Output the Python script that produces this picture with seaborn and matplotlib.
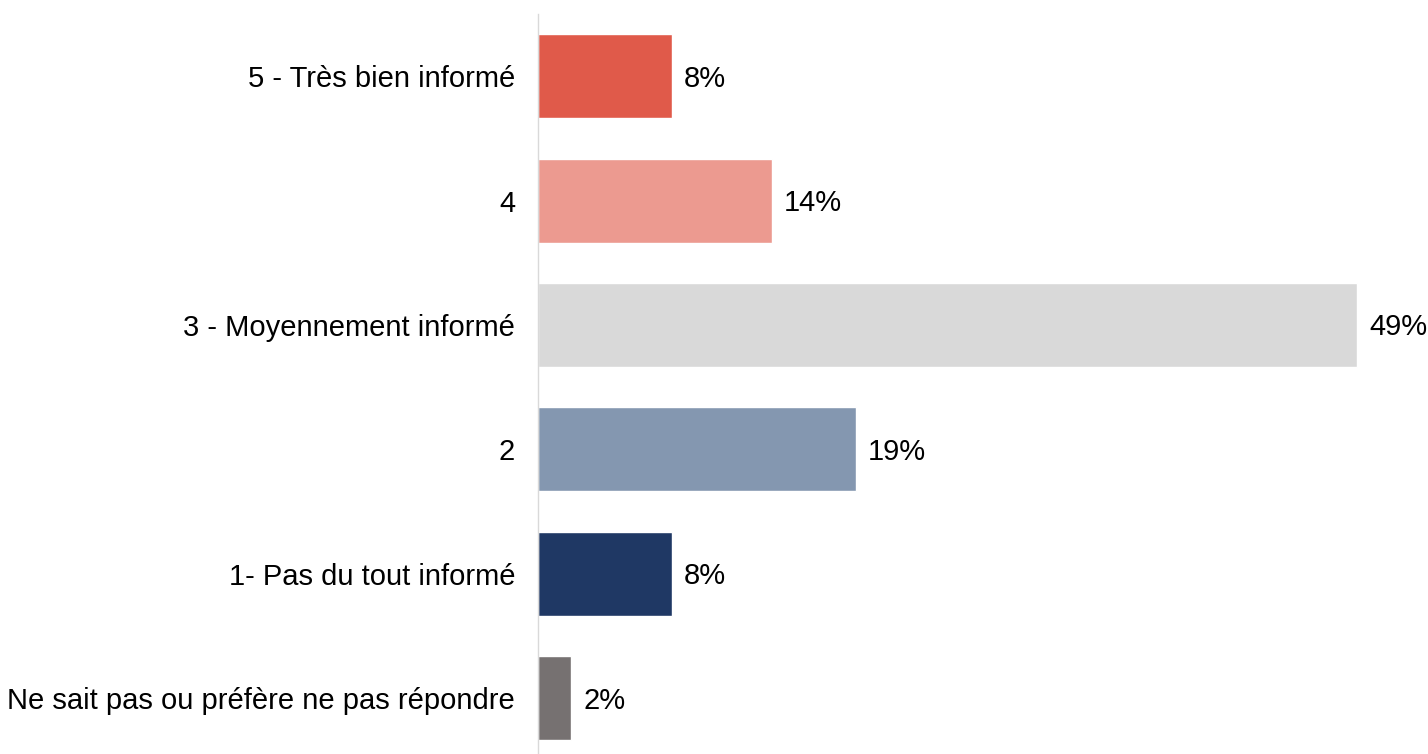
import matplotlib
matplotlib.use("Agg")
import matplotlib.pyplot as plt
import seaborn as sns
import pandas as pd

categories = [
    "5 - Très bien informé",
    "4",
    "3 - Moyennement informé",
    "2",
    "1- Pas du tout informé",
    "Ne sait pas ou préfère ne pas répondre",
]
values = [8, 14, 49, 19, 8, 2]
colors = ["#E05A4A", "#EC9A90", "#D9D9D9", "#8497B0", "#1F3864", "#767171"]

df = pd.DataFrame({"categorie": categories, "pct": values})

sns.set_style("white")
plt.rcParams["font.family"] = ["Liberation Sans", "DejaVu Sans"]

fig = plt.figure(figsize=(14.28, 7.54), dpi=100)
ax = fig.add_axes([538 / 1428, 0.0, 1 - 538 / 1428, 740 / 754])

sns.barplot(
    data=df, x="pct", y="categorie", hue="categorie",
    palette=colors, order=categories, hue_order=categories,
    orient="h", width=0.675, legend=False, ax=ax, saturation=1,
)

for i, v in enumerate(values):
    ax.text(v + 0.72, i + 0.02, f"{v}%", va="center", ha="left", fontsize=21, color="black")

ax.set_xlim(0, 53.25)
ax.set_ylim(5.45, -0.5)
ax.set_xlabel("")
ax.set_ylabel("")
ax.set_xticks([])
ax.tick_params(axis="y", length=0, pad=16.5, labelsize=21, labelcolor="black")
for side in ["top", "right", "bottom"]:
    ax.spines[side].set_visible(False)
ax.spines["left"].set_color("#D9D9D9")
ax.spines["left"].set_linewidth(1.0)

fig.savefig("out.png", dpi=100)
